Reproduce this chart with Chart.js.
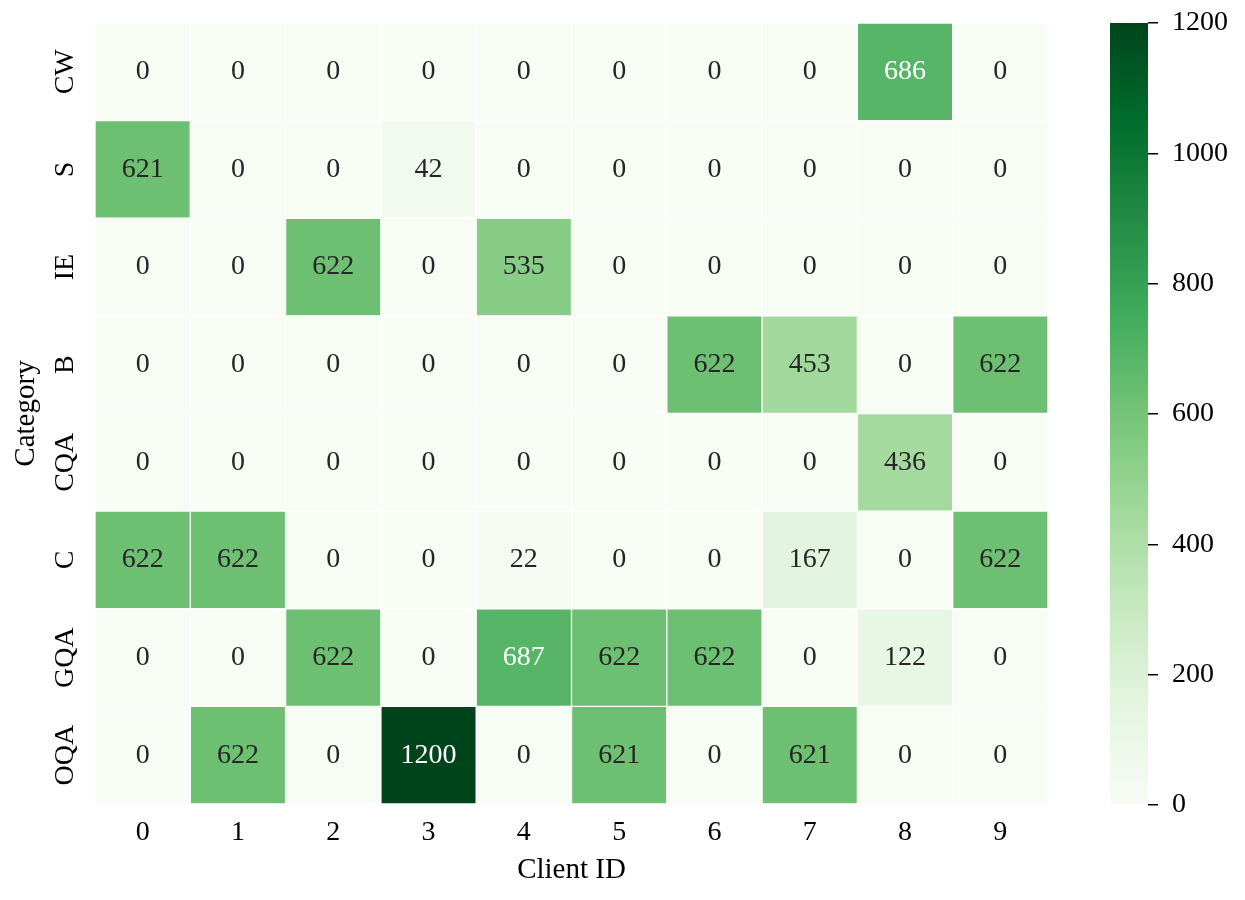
<!DOCTYPE html>
<html>
<head>
<meta charset="utf-8">
<script src="https://cdn.jsdelivr.net/npm/chart.js@4.4.0/dist/chart.umd.min.js"></script>
<style>
  html, body { margin: 0; padding: 0; background: #fff; }
  #wrap { position: relative; width: 1245px; height: 900px; }
  #heat { position: absolute; left: 0; top: 0; width: 1060px; height: 900px; }
  #cbar { position: absolute; left: 1060px; top: 0; width: 185px; height: 900px; }
</style>
</head>
<body>
<div id="wrap">
  <canvas id="heat" width="1060" height="900"></canvas>
  <canvas id="cbar" width="185" height="900"></canvas>
</div>
<script>
// ---- data ----
var clientIds = ['0', '1', '2', '3', '4', '5', '6', '7', '8', '9'];
var categories = ['CW', 'S', 'IE', 'B', 'CQA', 'C', 'GQA', 'OQA'];

var rowCW  = [0, 0, 0, 0, 0, 0, 0, 0, 686, 0];
var rowS   = [621, 0, 0, 42, 0, 0, 0, 0, 0, 0];
var rowIE  = [0, 0, 622, 0, 535, 0, 0, 0, 0, 0];
var rowB   = [0, 0, 0, 0, 0, 0, 622, 453, 0, 622];
var rowCQA = [0, 0, 0, 0, 0, 0, 0, 0, 436, 0];
var rowC   = [622, 622, 0, 0, 22, 0, 0, 167, 0, 622];
var rowGQA = [0, 0, 622, 0, 687, 622, 622, 0, 122, 0];
var rowOQA = [0, 622, 0, 1200, 0, 621, 0, 621, 0, 0];

var cellValues = [rowCW, rowS, rowIE, rowB, rowCQA, rowC, rowGQA, rowOQA];
var colorbarTicks = [0, 200, 400, 600, 800, 1000, 1200];
var vMin = 0;
var vMax = 1200;

// matplotlib "Greens"
var greens = ['#f7fcf5', '#e5f5e0', '#c7e9c0', '#a1d99b', '#74c476', '#41ab5d', '#238b45', '#006d2c', '#00441b'];

var FONT = '"Liberation Serif", "Times New Roman", "DejaVu Serif", serif';
Chart.defaults.font.family = FONT;
Chart.defaults.color = '#000';

function hexToRgb(h){
    return [parseInt(h.substr(1, 2), 16), parseInt(h.substr(3, 2), 16), parseInt(h.substr(5, 2), 16)];
}

function greensAt(t){
    // 256-step lookup like matplotlib
    var idx = Math.min(255, Math.max(0, Math.floor(t * 256)));
    var p = idx / 255 * (greens.length - 1);
    var i = Math.min(greens.length - 2, Math.floor(p));
    var f = p - i;
    var a = hexToRgb(greens[i]), b = hexToRgb(greens[i + 1]);
    return [a[0] + (b[0] - a[0]) * f, a[1] + (b[1] - a[1]) * f, a[2] + (b[2] - a[2]) * f];
}

function cellColor(v){
    var c = greensAt((v - vMin) / (vMax - vMin));
    return 'rgb(' + Math.round(c[0]) + ',' + Math.round(c[1]) + ',' + Math.round(c[2]) + ')';
}

// same rule seaborn uses for the annotation colour
function textColor(v){
    var c = greensAt((v - vMin) / (vMax - vMin));
    var lin = c.map(function(x){
        x = x / 255;
        return x <= 0.03928 ? x / 12.92 : Math.pow((x + 0.055) / 1.055, 2.4);
    });
    var lum = 0.2126 * lin[0] + 0.7152 * lin[1] + 0.0722 * lin[2];
    return lum > 0.408 ? '#262626' : '#ffffff';
}

// one stacked dataset per row, bottom row first
var datasets = [];
for(var r = categories.length - 1; r >= 0; r--){
    datasets.push({
        label: categories[r],
        data: clientIds.map(function(){ return 1; }),
        values: cellValues[r],
        backgroundColor: cellValues[r].map(cellColor),
        borderColor: '#ffffff',
        borderWidth: 1,
        borderSkipped: false,
        barPercentage: 1,
        categoryPercentage: 1,
        xAxisID: 'x',
        yAxisID: 'y'
    });
}

var annotatePlugin = {
    id: 'annotate',
    afterDatasetsDraw: function(chart){
        var ctx = chart.ctx;
        ctx.save();
        ctx.font = '28px ' + FONT;
        ctx.textAlign = 'center';
        ctx.textBaseline = 'middle';
        chart.data.datasets.forEach(function(ds, d){
            chart.getDatasetMeta(d).data.forEach(function(el, i){
                var p = el.getCenterPoint();
                ctx.fillStyle = textColor(ds.values[i]);
                ctx.fillText(String(ds.values[i]), p.x, p.y);
            });
        });
        ctx.restore();
    }
};

new Chart(document.getElementById('heat'), {
    type: 'bar',
    data: { labels: clientIds, datasets: datasets },
    plugins: [annotatePlugin],
    options: {
        responsive: false,
        animation: false,
        layout: { padding: { top: 23, right: 12, bottom: 0, left: 0 } },
        plugins: { legend: { display: false }, tooltip: { enabled: false } },
        scales: {
            x: {
                type: 'category',
                stacked: true,
                grid: { display: false },
                border: { display: false },
                ticks: { font: { size: 28 }, color: '#000', padding: 4 },
                title: { display: true, text: 'Client ID', font: { size: 29 }, color: '#000', padding: { top: 0, bottom: 12 } },
                afterFit: function(scale){ scale.height = 96; }
            },
            y: {
                type: 'linear',
                stacked: true,
                min: 0,
                max: categories.length,
                display: false
            },
            yc: {
                type: 'category',
                labels: categories,
                position: 'left',
                offset: true,
                grid: { display: false },
                border: { display: false },
                ticks: { font: { size: 28 }, color: '#000', minRotation: 90, maxRotation: 90, crossAlign: 'center', padding: -9 },
                title: { display: true, text: 'Category', font: { size: 29 }, color: '#000', padding: { top: 9, bottom: 0 } },
                afterFit: function(scale){ scale.width = 95; }
            }
        }
    }
});

// ---- colour bar ----
function colorbarFill(context){
    var area = context.chart.chartArea;
    if(!area){ return greens[4]; }
    var g = context.chart.ctx.createLinearGradient(0, area.bottom, 0, area.top);
    for(var i = 0; i < greens.length; i++){
        g.addColorStop(i / (greens.length - 1), greens[i]);
    }
    return g;
}

new Chart(document.getElementById('cbar'), {
    type: 'bar',
    data: {
        labels: [''],
        datasets: [{
            data: [vMax],
            backgroundColor: colorbarFill,
            borderWidth: 0,
            barPercentage: 1,
            categoryPercentage: 1
        }]
    },
    options: {
        responsive: false,
        animation: false,
        layout: { padding: { top: 23, right: 0, bottom: 95, left: 50 } },
        plugins: { legend: { display: false }, tooltip: { enabled: false } },
        scales: {
            x: { display: false },
            y: {
                position: 'right',
                min: vMin,
                max: vMax,
                afterBuildTicks: function(scale){
                    scale.ticks = colorbarTicks.map(function(v){ return { value: v }; });
                },
                grid: { drawOnChartArea: false, drawTicks: true, tickLength: 10, color: '#000', lineWidth: 1.5 },
                border: { display: false },
                ticks: {
                    font: { size: 28 },
                    color: '#000',
                    padding: 14,
                    callback: function(v){ return String(v); }
                },
                afterFit: function(scale){
                    scale.width = 97;
                    // keep the bar flush with the heatmap top and bottom
                    scale.paddingTop = 0;
                    scale.paddingBottom = 0;
                }
            }
        }
    }
});
</script>
</body>
</html>
